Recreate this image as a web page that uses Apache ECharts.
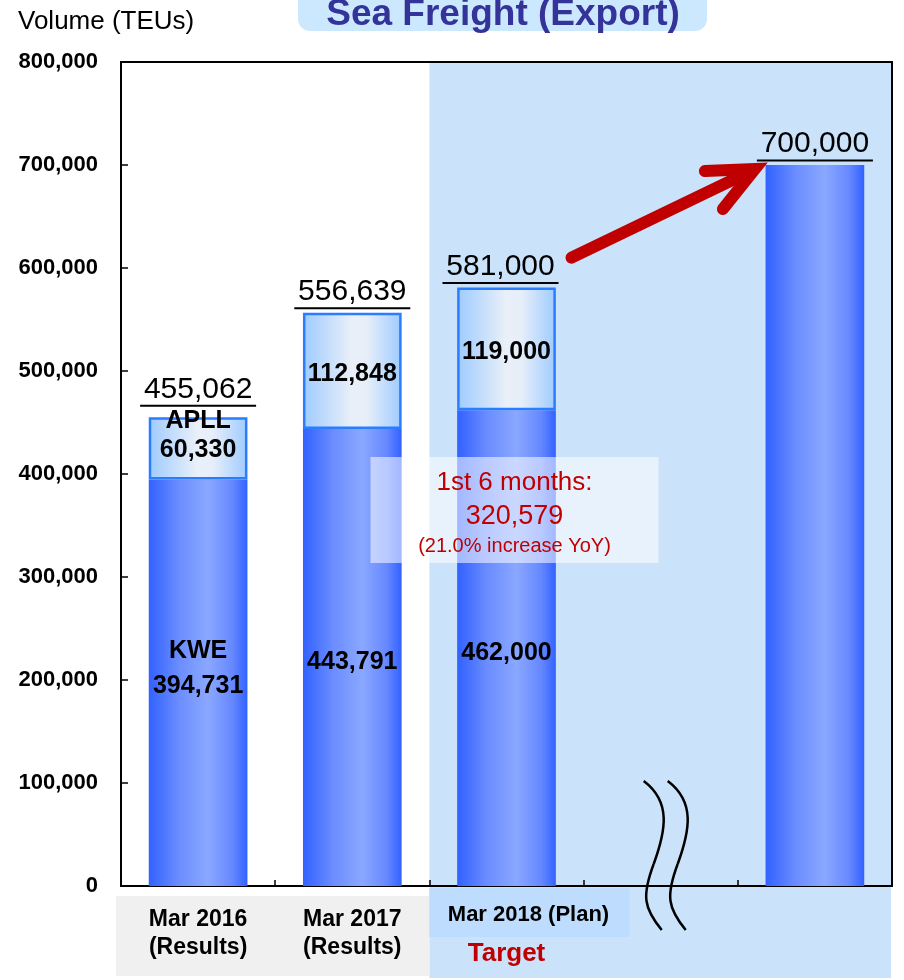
<!DOCTYPE html>
<html>
<head>
<meta charset="utf-8">
<script src="https://cdn.jsdelivr.net/npm/echarts@6/dist/echarts.min.js"></script>
<style>
  html, body { margin: 0; padding: 0; background: #ffffff; }
  #chart { width: 904px; height: 980px; }
</style>
</head>
<body>
<div id="chart"></div>
<script>
// Sea freight export volumes (TEUs) by fiscal year
const categories = ['Mar 2016\n(Results)', 'Mar 2017\n(Results)', 'Mar 2018 (Plan)\nTarget', '', ' '];
const kweVolume = [394731, 443791, 462000, null, null];
const apllVolume = [60330, 112848, 119000, null, null];
const targetVolume = [null, null, null, null, 700000];
const totalVolume = [455062, 556639, 581000, null, 700000];
const yMin = 0;
const yMax = 800000;
const yStep = 100000;
const halfYear = { label: '1st 6 months:', value: 320579, note: '(21.0% increase YoY)' };

const SANS = '"Liberation Sans", Arial, sans-serif';
const fmt = v => Number(v).toLocaleString('en-US');

const kweFill = {
  type: 'linear', x: 0, y: 0, x2: 1, y2: 0,
  colorStops: [
    { offset: 0, color: '#3161ff' },
    { offset: 0.3, color: '#6a8cff' },
    { offset: 0.6, color: '#8aa8ff' },
    { offset: 0.85, color: '#6688ff' },
    { offset: 1, color: '#3161ff' }
  ]
};
const apllFill = {
  type: 'linear', x: 0, y: 0, x2: 1, y2: 0,
  colorStops: [
    { offset: 0, color: '#9ecbff' },
    { offset: 0.5, color: '#eaf0f8' },
    { offset: 0.65, color: '#e6eef9' },
    { offset: 1, color: '#9ecbff' }
  ]
};

const chart = echarts.init(document.getElementById('chart'), null, { renderer: 'canvas' });

const kweData = kweVolume.map((v, i) => i === 0
  ? { value: v, label: { offset: [0, -16] } }
  : { value: v, label: { offset: [0, 5] } });
const apllData = apllVolume.map((v, i) => i === 0
  ? { value: v, label: { offset: [0, -12] } }
  : { value: v, label: { offset: [0, 3] } });
const totalData = totalVolume.map((v, i) => {
  if (i === 0) return { value: v, label: { offset: [0, -7] } };
  if (i === 2) return { value: v, label: { offset: [-6, 0] } };
  return { value: v };
});

const option = {
  animation: false,
  grid: {
    left: 121, right: 12, top: 62, bottom: 94,
    show: true, borderColor: '#000', borderWidth: 2, backgroundColor: 'transparent'
  },
  title: {
    text: 'Volume (TEUs)',
    left: 13, top: 4,
    textStyle: { fontFamily: SANS, fontSize: 26, fontWeight: 'normal', color: '#000' }
  },
  xAxis: {
    type: 'category',
    data: categories,
    axisLine: { lineStyle: { color: '#000', width: 2 } },
    axisTick: { show: true, inside: true, length: 6, interval: 0, lineStyle: { color: '#000', width: 1.5 } },
    axisLabel: {
      interval: 0,
      margin: 20,
      formatter: (val, idx) => {
        if (idx === 2) {
          const parts = val.split('\n');
          return '{p|' + parts[0] + '}\n{t|' + parts[1] + '}';
        }
        if (idx > 2) return '';
        return val.split('\n').map(s => '{r|' + s + '}').join('\n');
      },
      rich: {
        r: { fontFamily: SANS, fontSize: 23, fontWeight: 'bold', color: '#000', lineHeight: 28 },
        p: { fontFamily: SANS, fontSize: 22, fontWeight: 'bold', color: '#000', lineHeight: 18, padding: [0, 0, 0, 44] },
        t: { fontFamily: SANS, fontSize: 26, fontWeight: 'bold', color: '#c00000', lineHeight: 60 }
      }
    },
    splitLine: { show: false }
  },
  yAxis: {
    type: 'value',
    min: yMin, max: yMax, interval: yStep,
    axisLine: { show: true, lineStyle: { color: '#000', width: 2 } },
    axisTick: { show: true, inside: true, length: 7, lineStyle: { color: '#000', width: 1.5 } },
    axisLabel: {
      margin: 23,
      fontFamily: SANS, fontSize: 22, fontWeight: 'bold', color: '#000',
      formatter: v => fmt(v)
    },
    splitLine: { show: false }
  },
  series: [
    {
      name: 'KWE',
      type: 'bar',
      stack: 'volume',
      barWidth: '64%',
      data: kweData,
      itemStyle: { color: kweFill },
      label: {
        show: true,
        position: 'inside',
        formatter: p => p.dataIndex === 0
          ? '{n|KWE}\n{v|' + fmt(p.value) + '}'
          : '{v|' + fmt(p.value) + '}',
        rich: {
          n: { fontFamily: SANS, fontSize: 25, fontWeight: 'bold', color: '#000', lineHeight: 38 },
          v: { fontFamily: SANS, fontSize: 25, fontWeight: 'bold', color: '#000', lineHeight: 32 }
        }
      }
    },
    {
      name: 'APLL',
      type: 'bar',
      stack: 'volume',
      data: apllData,
      itemStyle: { color: apllFill, borderColor: '#2a7dff', borderWidth: 2.5 },
      label: {
        show: true,
        position: 'inside',
        formatter: p => p.dataIndex === 0
          ? '{n|APLL}\n{v|' + fmt(p.value) + '}'
          : '{v|' + fmt(p.value) + '}',
        rich: {
          n: { fontFamily: SANS, fontSize: 25, fontWeight: 'bold', color: '#000', lineHeight: 28 },
          v: { fontFamily: SANS, fontSize: 25, fontWeight: 'bold', color: '#000', lineHeight: 30 }
        }
      }
    },
    {
      name: 'Target',
      type: 'bar',
      stack: 'volume',
      data: targetVolume,
      itemStyle: { color: kweFill }
    },
    {
      name: 'Total',
      type: 'scatter',
      data: totalData,
      symbolSize: 0,
      itemStyle: { color: 'transparent', opacity: 1 },
      z: 5,
      label: {
        show: true,
        position: 'top',
        distance: 3,
        color: '#000',
        opacity: 1,
        formatter: p => '{v|' + fmt(p.value) + '}\n{u|}',
        rich: {
          v: { fontFamily: SANS, fontSize: 30, color: '#000', lineHeight: 30, align: 'center' },
          u: { width: 116, height: 2, lineHeight: 3, backgroundColor: '#000' }
        }
      }
    }
  ]
};
chart.setOption(option);

// Decorations placed from the axis scales
const px = i => chart.convertToPixel({ xAxisIndex: 0 }, i);
const py = v => chart.convertToPixel({ yAxisIndex: 0 }, v);
const band = px(1) - px(0);
const yTop = py(yMax);
const yZero = py(0);
const planLeft = px(2) - band / 2;
const plotRight = px(4) + band / 2;

// Axis-break mark: each wavy stroke is two cubic segments
const breakStroke = x0 => [
  {
    type: 'bezierCurve', z: 20, silent: true,
    shape: {
      x1: x0 - 16, y1: yZero - 105,
      cpx1: x0 + 12, cpy1: yZero - 84,
      cpx2: x0 + 6, cpy2: yZero - 55,
      x2: x0 - 6, y2: yZero - 22
    },
    style: { fill: null, stroke: '#000', lineWidth: 2.5 }
  },
  {
    type: 'bezierCurve', z: 20, silent: true,
    shape: {
      x1: x0 - 6, y1: yZero - 22,
      cpx1: x0 - 18, cpy1: yZero + 10,
      cpx2: x0 - 16, cpy2: yZero + 22,
      x2: x0 + 2, y2: yZero + 44
    },
    style: { fill: null, stroke: '#000', lineWidth: 2.5 }
  }
];
const bx = px(3) + 9;

const arrowStart = [px(2) + 65, py(610000)];
const arrowTip = [px(4) - 60, py(696000)];
const annX = px(2) + 8;
const annY = py(365000);

chart.setOption({
  graphic: [
    {
      type: 'rect', z: -10, silent: true,
      shape: { x: planLeft, y: yTop, width: plotRight - planLeft - 1, height: 978 - yTop },
      style: { fill: '#cae3fb' }
    },
    {
      type: 'rect', z: -9, silent: true,
      shape: { x: px(0) - band / 2 - 5, y: yZero + 10, width: planLeft - (px(0) - band / 2 - 5), height: 978 - yZero - 12 },
      style: { fill: '#f0f0f0' }
    },
    {
      type: 'rect', z: -9, silent: true,
      shape: { x: planLeft, y: yZero + 2, width: band + 46, height: 49 },
      style: { fill: '#bedcfd' }
    },
    {
      type: 'rect', z: 1, silent: true,
      shape: { x: 298, y: -14, width: 409, height: 45, r: 12 },
      style: { fill: '#cce8fe' }
    },
    {
      type: 'text', z: 2, silent: true,
      x: 503, y: 33,
      style: {
        text: 'Sea Freight (Export)', align: 'center', verticalAlign: 'bottom',
        font: 'bold 37px "Liberation Sans", Arial, sans-serif', fill: '#333399'
      }
    },
    ...breakStroke(bx - 10),
    ...breakStroke(bx + 14),
    {
      type: 'line', z: 30, silent: true,
      shape: { x1: arrowStart[0], y1: arrowStart[1], x2: arrowTip[0] - 6, y2: arrowTip[1] + 3 },
      style: { stroke: '#c00000', lineWidth: 12, lineCap: 'round' }
    },
    {
      type: 'polyline', z: 30, silent: true,
      shape: { points: [[arrowTip[0] - 50, arrowTip[1] + 2], arrowTip, [arrowTip[0] - 32, arrowTip[1] + 40]] },
      style: { fill: null, stroke: '#c00000', lineWidth: 12, lineCap: 'round', lineJoin: 'miter' }
    },
    {
      type: 'rect', z: 40, silent: true,
      shape: { x: annX - 144, y: annY - 53, width: 288, height: 106 },
      style: { fill: 'rgba(255,255,255,0.55)' }
    },
    {
      type: 'text', z: 41, silent: true,
      x: annX, y: annY - 27,
      style: {
        text: halfYear.label, align: 'center', verticalAlign: 'middle',
        font: '26px "Liberation Sans", Arial, sans-serif', fill: '#c00000'
      }
    },
    {
      type: 'text', z: 41, silent: true,
      x: annX, y: annY + 6,
      style: {
        text: fmt(halfYear.value), align: 'center', verticalAlign: 'middle',
        font: '27px "Liberation Sans", Arial, sans-serif', fill: '#c00000'
      }
    },
    {
      type: 'text', z: 41, silent: true,
      x: annX, y: annY + 36,
      style: {
        text: halfYear.note, align: 'center', verticalAlign: 'middle',
        font: '20px "Liberation Sans", Arial, sans-serif', fill: '#c00000'
      }
    }
  ]
});
</script>
</body>
</html>
